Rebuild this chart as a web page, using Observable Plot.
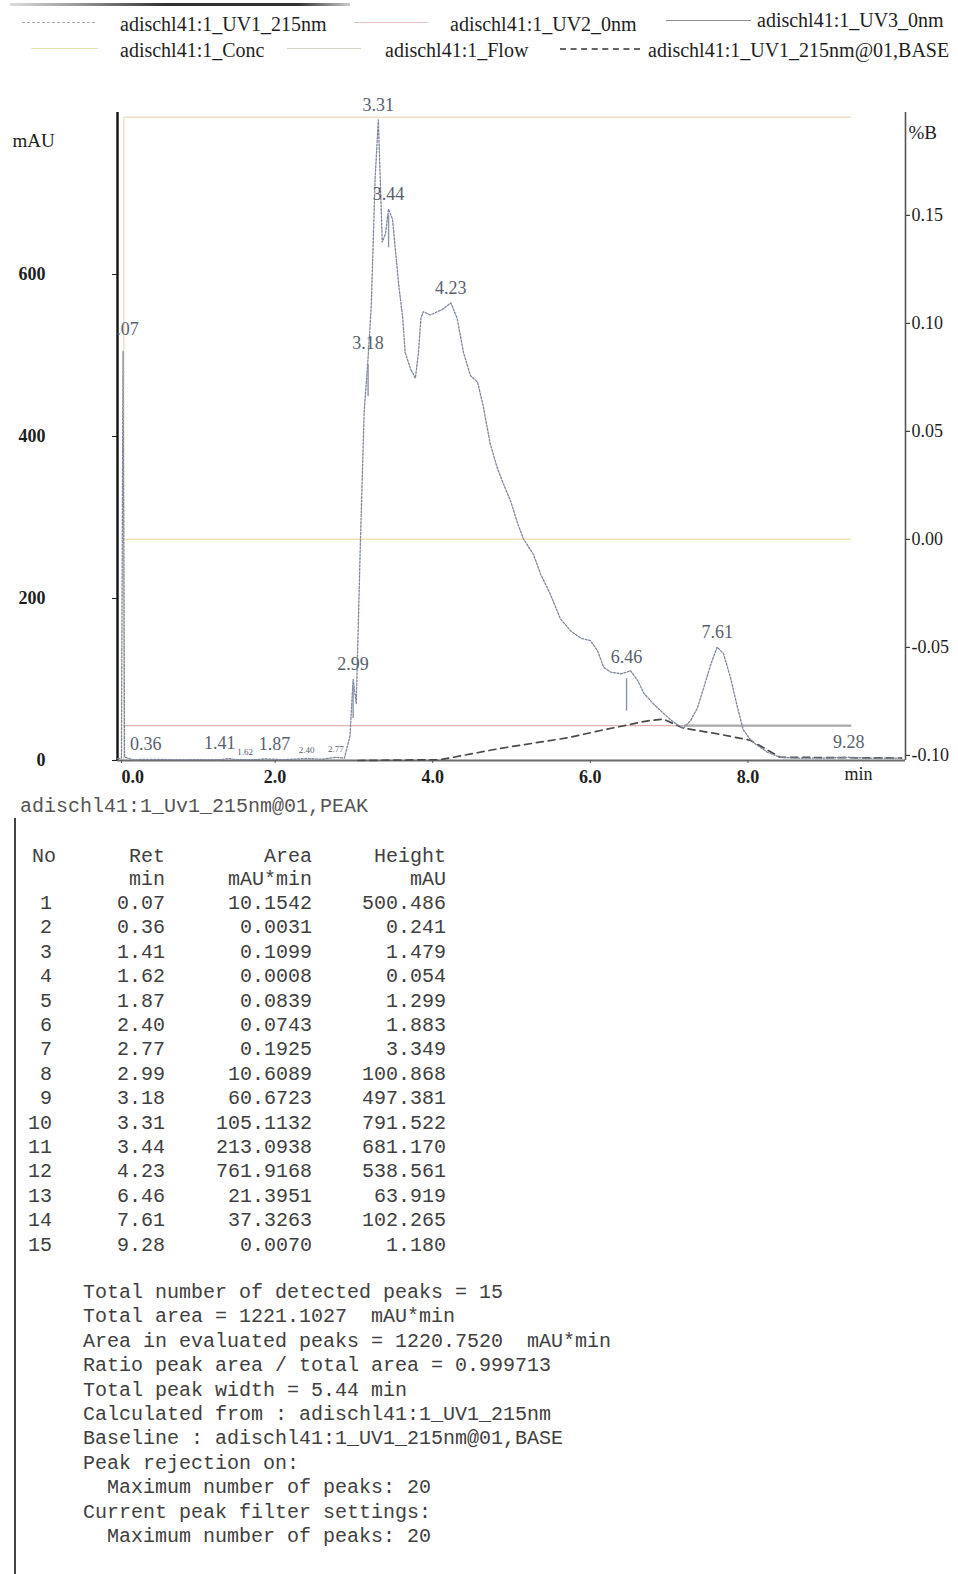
<!DOCTYPE html>
<html><head><meta charset="utf-8">
<script src="https://cdn.jsdelivr.net/npm/d3@7"></script>
<script src="https://cdn.jsdelivr.net/npm/@observablehq/plot@0.6"></script>
<style>
html,body{margin:0;padding:0;background:#fff;}
#page{position:relative;width:958px;height:1574px;overflow:hidden;background:#fff;font-family:"Liberation Serif","DejaVu Serif",serif;}
.lg{position:absolute;font-size:20px;color:#1e1e1e;white-space:nowrap;line-height:20px;}
.sw{position:absolute;height:0;}
#chart{position:absolute;left:0;top:70px;}
.mono{position:absolute;font-family:"Liberation Mono","DejaVu Sans Mono",monospace;font-size:20px;color:#404040;white-space:pre;line-height:20px;}
</style></head><body><div id="page"></div>
<script>
// ---------- data ----------
const uvT = [0.00,0.05,0.07,0.09,0.20,0.36,0.80,1.30,1.41,1.50,1.62,1.75,1.87,2.10,2.40,2.60,2.77,2.88,2.95,2.99,3.03,3.08,3.13,3.18,3.22,3.27,3.31,3.36,3.40,3.44,3.49,3.53,3.57,3.62,3.65,3.72,3.78,3.82,3.85,3.88,3.97,4.06,4.14,4.23,4.31,4.39,4.48,4.57,4.64,4.73,4.82,4.90,4.99,5.08,5.15,5.28,5.37,5.49,5.62,5.75,5.88,6.00,6.09,6.17,6.26,6.39,6.46,6.51,6.60,6.68,6.80,6.93,7.06,7.18,7.27,7.36,7.44,7.53,7.61,7.69,7.78,7.87,7.94,8.03,8.10,8.25,8.41,8.60,9.00,9.28,9.50,9.95];
const uvMAU = [2,3,505,4,1,1.5,1,1,2.5,1,1,1,2,1,2.5,1.5,4,3,30,100,70,260,430,497,560,720,791,640,650,681,668,627,586,546,504,483,472,504,546,554,550,554,558,565,546,504,475,467,438,391,361,341,320,292,274,254,230,206,175,160,151,148,136,115,109,107,109,111,99,83,70,58,47,40,49,65,90,119,140,132,102,65,38,26,20,10,4,3,3,4,3,3];

const baseT   = [3.05,4.10,4.86,5.71,6.13,6.73,6.93,7.18,7.61,8.03,8.41,9.95];
const baseMAU = [0,1,15,28,37,49,51,40,33,25,4,3];

const concT = [0.08, 9.3];  const concPctB = [0, 0];
const flowT = [0.08, 0.08, 9.3]; const flowMAU = [0, 794, 794];
const uv2T = [0.08, 9.3];  const uv2MAU = [43, 43];
const uv3T = [7.2, 9.3];   const uv3MAU = [43, 43];

const peakNo     = ["1","2","3","4","5","6","7","8","9","10","11","12","13","14","15"];
const peakRet    = ["0.07","0.36","1.41","1.62","1.87","2.40","2.77","2.99","3.18","3.31","3.44","4.23","6.46","7.61","9.28"];
const peakArea   = ["10.1542","0.0031","0.1099","0.0008","0.0839","0.0743","0.1925","10.6089","60.6723","105.1132","213.0938","761.9168","21.3951","37.3263","0.0070"];
const peakHeight = ["500.486","0.241","1.479","0.054","1.299","1.883","3.349","100.868","497.381","791.522","681.170","538.561","63.919","102.265","1.180"];
const smallLabelRet = ["1.62","2.40","2.77"];
const endLabelRet = ["1.41"];
const startLabelRet = ["1.87"];
const markerRet = ["2.99","3.18","3.44","6.46"];

const xTicks = [0, 2, 4, 6, 8];
const yTicks = [0, 200, 400, 600];
const pctBTicks = [-0.10, -0.05, 0.00, 0.05, 0.10, 0.15];
// secondary (%B) axis: mAU = pctBZero + pctBSpan * %B
const pctBZero = 273, pctBSpan = 2667;

const legendNames = ["adischl41:1_UV1_215nm","adischl41:1_UV2_0nm","adischl41:1_UV3_0nm","adischl41:1_Conc","adischl41:1_Flow","adischl41:1_UV1_215nm@01,BASE"];
const tableTitle = "adischl41:1_Uv1_215nm@01,PEAK";
const tableHead1 = ["No","Ret","Area","Height"];
const tableHead2 = ["","min","mAU*min","mAU"];
const summaryLines = [
  "Total number of detected peaks = 15",
  "Total area = 1221.1027  mAU*min",
  "Area in evaluated peaks = 1220.7520  mAU*min",
  "Ratio peak area / total area = 0.999713",
  "Total peak width = 5.44 min",
  "Calculated from : adischl41:1_UV1_215nm",
  "Baseline : adischl41:1_UV1_215nm@01,BASE",
  "Peak rejection on:",
  "  Maximum number of peaks: 20",
  "Current peak filter settings:",
  "  Maximum number of peaks: 20"
];

// ---------- helpers ----------
const page = document.getElementById("page");
function addDiv(cls, css, text) {
  const d = document.createElement("div");
  if (cls) d.className = cls;
  Object.assign(d.style, css);
  if (text != null) d.textContent = text;
  page.appendChild(d);
  return d;
}
const traceAt = t => {
  const i = d3.bisectLeft(uvT, t);
  if (i <= 0) return uvMAU[0];
  if (i >= uvT.length) return uvMAU[uvT.length - 1];
  const t0 = uvT[i-1], t1 = uvT[i];
  return uvMAU[i-1] + (uvMAU[i] - uvMAU[i-1]) * (t - t0) / (t1 - t0);
};
const toMAU = p => pctBZero + pctBSpan * p;

// ---------- top artefact + legend ----------
addDiv(null, {position:"absolute", left:"10px", top:"3px", width:"340px", height:"3px",
  background:"linear-gradient(to right,#ddd,#999 20%,#333 45%,#333 85%,#ccc)"});

const legendStyle = [
  {sx:22, sw:73, sy:22, c:"#a8adb5", dash:"dashed", w:1, tx:120, ty:14},
  {sx:354, sw:74, sy:22, c:"#e2c4c4", dash:"solid", w:1, tx:450, ty:14},
  {sx:666, sw:85, sy:20, c:"#8c8c8c", dash:"solid", w:1, tx:757, ty:10},
  {sx:31, sw:67, sy:48, c:"#e6dfb0", dash:"solid", w:1, tx:120, ty:40},
  {sx:287, sw:74, sy:48, c:"#d8d2c4", dash:"solid", w:1, tx:385, ty:40},
  {sx:560, sw:80, sy:48, c:"#666", dash:"dashed", w:2, tx:648, ty:40}
];
legendNames.forEach((name, i) => {
  const s = legendStyle[i];
  addDiv("sw", {left:s.sx+"px", top:s.sy+"px", width:s.sw+"px", borderTop:`${s.w}px ${s.dash} ${s.c}`});
  addDiv("lg", {left:s.tx+"px", top:s.ty+"px"}, name);
});

// ---------- chart ----------
const pctLabel = new Map(pctBTicks.map(p => [toMAU(p), p.toFixed(2)]));
const peakIdx = d3.range(peakRet.length);
const isIn = (arr, i) => arr.includes(peakRet[i]);
const midIdx = peakIdx.filter(i => i !== 0 && !isIn(smallLabelRet, i) && !isIn(endLabelRet, i) && !isIn(startLabelRet, i));
const endIdx = peakIdx.filter(i => isIn(endLabelRet, i));
const startIdx = peakIdx.filter(i => isIn(startLabelRet, i));
const smallIdx = peakIdx.filter(i => isIn(smallLabelRet, i));
const markIdx = peakIdx.filter(i => isIn(markerRet, i));
const labelColor = "#58606e";
const px = i => +peakRet[i];
const py = i => traceAt(+peakRet[i]);

const chart = Plot.plot({
  width: 958, height: 740,
  marginLeft: 117, marginRight: 53, marginTop: 42, marginBottom: 50,
  x: {domain: [0, 10]},
  y: {domain: [0, 800]},
  style: {fontFamily: "Liberation Serif, DejaVu Serif, serif", fontSize: "18px", color: "#1e1e1e", background: "transparent", overflow: "visible"},
  marks: [
    // flow frame, conc, uv2, uv3
    Plot.line(flowT.map((t, i) => i), {x: i => flowT[i], y: i => flowMAU[i], stroke: "#ebe3c6", strokeWidth: 1.5}),
    Plot.line(concT.map((t, i) => i), {x: i => concT[i], y: i => toMAU(concPctB[i]), stroke: "#ece4b4", strokeWidth: 1.5}),
    Plot.line(uv2T.map((t, i) => i), {x: i => uv2T[i], y: i => uv2MAU[i], stroke: "#e0b3b3", strokeWidth: 1.3}),
    Plot.line(uv3T.map((t, i) => i), {x: i => uv3T[i], y: i => uv3MAU[i], stroke: "#a9a9a9", strokeWidth: 2.2}),
    // axis lines
    Plot.ruleY([0], {stroke: "#6a6a6a", strokeWidth: 2}),
    Plot.ruleX([0], {stroke: "#111", strokeWidth: 2.4}),
    Plot.ruleX([10], {stroke: "#555", strokeWidth: 1.6}),
    // baseline (dashed)
    Plot.line(baseT.map((t, i) => i), {x: i => baseT[i], y: i => baseMAU[i], stroke: "#4a4a4a", strokeWidth: 1.7, strokeDasharray: "7,5"}),
    // UV1 trace (dotted)
    Plot.line(uvT.map((t, i) => i), {x: i => uvT[i], y: i => uvMAU[i], stroke: "#7e889c", strokeWidth: 1.3, strokeDasharray: "2,1.6"}),
    // peak drop markers
    Plot.ruleX(markIdx, {x: px, y1: i => py(i) - 8, y2: i => py(i) - 48, stroke: "#8a94a8", strokeWidth: 1.4}),
    // peak labels
    Plot.text(midIdx, {x: px, y: py, text: i => peakRet[i], dy: -15, fill: labelColor, fontSize: 18}),
    Plot.text(endIdx, {x: px, y: py, text: i => peakRet[i], dy: -15, dx: 7, textAnchor: "end", fill: labelColor, fontSize: 18}),
    Plot.text(startIdx, {x: px, y: py, text: i => peakRet[i], dy: -15, dx: -6, textAnchor: "start", fill: labelColor, fontSize: 18}),
    Plot.text(smallIdx, {x: px, y: py, text: i => peakRet[i], dy: -8, fill: labelColor, fontSize: 9}),
    Plot.text([0], {x: px, y: py, text: i => peakRet[i], dy: -22, fill: labelColor, fontSize: 18, clip: true}),
    // axes
    Plot.axisX([xTicks[0]], {tickFormat: d3.format(".1f"), tickSize: 3, tickPadding: 7, textAnchor: "start", dx: 4, fontWeight: "bold", label: null, stroke: "#555"}),
    Plot.axisX(xTicks.slice(1), {tickFormat: d3.format(".1f"), tickSize: 3, tickPadding: 7, fontWeight: "bold", label: null, stroke: "#555"}),
    Plot.axisY(yTicks, {anchor: "left", tickSize: 5, tickPadding: 67, fontWeight: "bold", label: null}),
    Plot.axisY(pctBTicks.map(toMAU), {anchor: "right", tickSize: 4, tickPadding: 2, tickFormat: d => pctLabel.get(d), label: null}),
    // axis titles
    Plot.text(["mAU"], {frameAnchor: "top-left", dx: -105, dy: 21, textAnchor: "start", fontSize: 19}),
    Plot.text(["%B"], {frameAnchor: "top-right", dx: 3, dy: 13, textAnchor: "start", fontSize: 19}),
    Plot.text(["min"], {frameAnchor: "bottom-right", dx: -47, dy: 19, textAnchor: "middle", fontSize: 18})
  ]
});
chart.id = "chart";
page.appendChild(chart);

// ---------- peak table ----------
const rowY0 = 904, rowStep = 24.4;
addDiv("mono", {left:"20px", top:(807-10)+"px", color:"#555"}, tableTitle);
addDiv(null, {position:"absolute", left:"14px", top:"818px", width:"2px", height:"756px", background:"#444"});
const colRight = [52, 165, 312, 446];
function cell(text, right, cy, extra) {
  addDiv("mono", Object.assign({right:(958-right)+"px", top:(cy-10)+"px", textAlign:"right"}, extra || {}), text);
}
addDiv("mono", {left:"32px", top:(857-10)+"px"}, tableHead1[0]);
tableHead1.slice(1).forEach((h, j) => cell(h, colRight[j+1], 857));
tableHead2.slice(1).forEach((h, j) => cell(h, colRight[j+1], 880));
peakNo.forEach((n, i) => {
  const cy = rowY0 + rowStep * i;
  cell(n, colRight[0], cy);
  cell(peakRet[i], colRight[1], cy);
  cell(peakArea[i], colRight[2], cy);
  cell(peakHeight[i], colRight[3], cy);
});
summaryLines.forEach((line, i) => {
  addDiv("mono", {left:"83px", top:(1293 + rowStep * i - 10)+"px"}, line);
});
</script>
</body></html>
